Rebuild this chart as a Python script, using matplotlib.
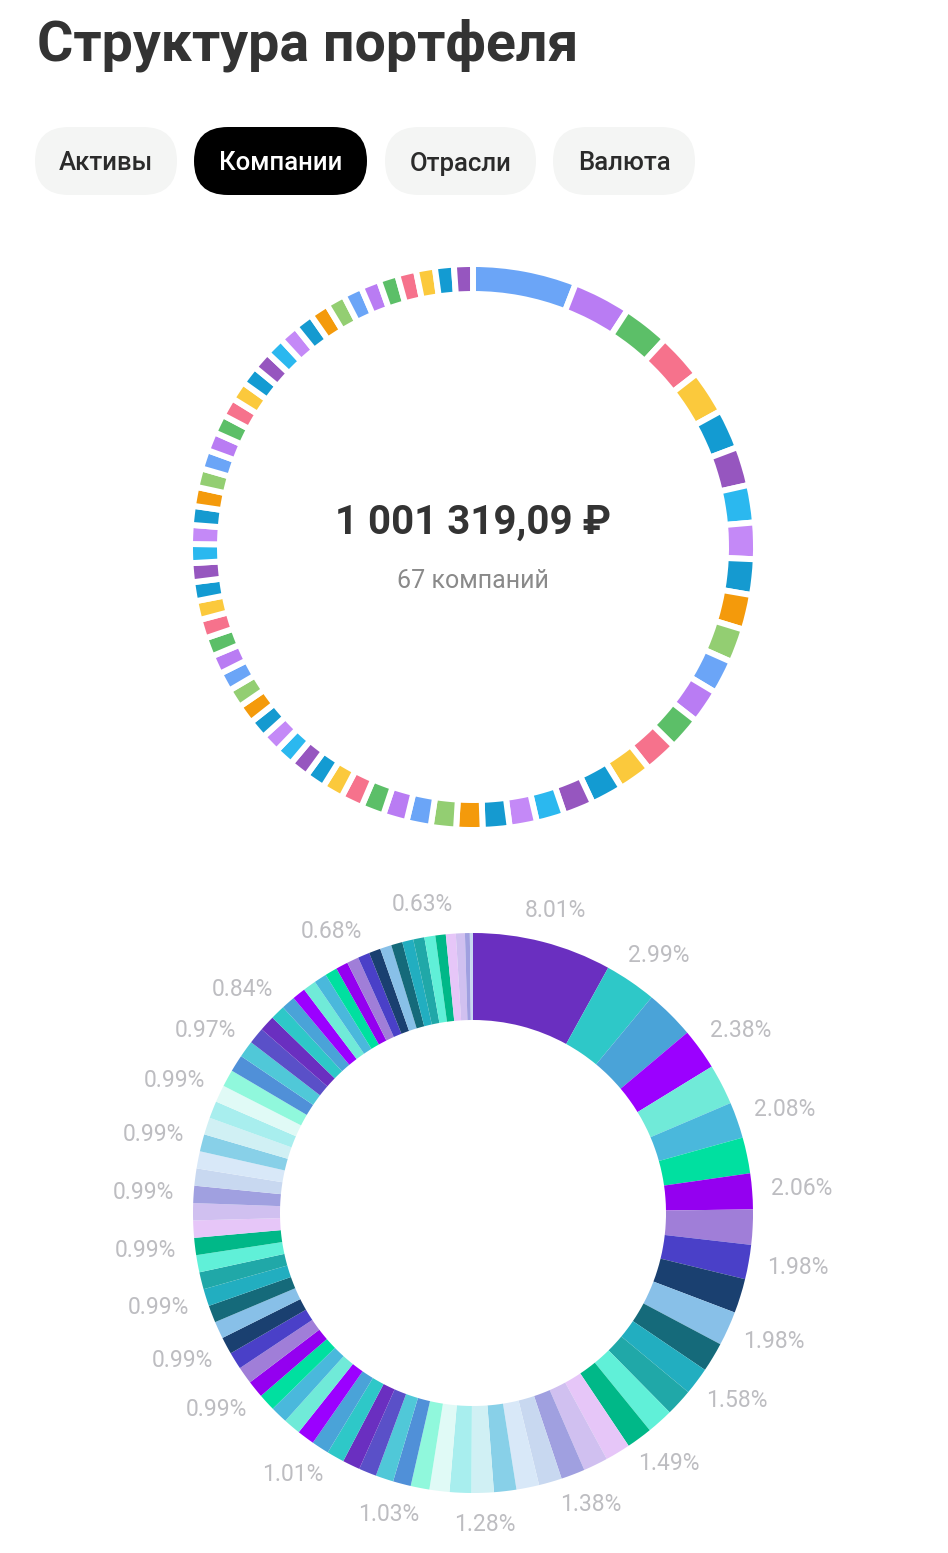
import numpy as np
import matplotlib

matplotlib.use("Agg")
import matplotlib.pyplot as plt
from matplotlib.patches import FancyBboxPatch

plt.rcParams["font.family"] = ["Roboto", "DejaVu Sans"]

W, H = 948, 1553  # output size in px (dpi 100)

TITLE = "Структура портфеля"
TABS = ["Активы", "Компании", "Отрасли", "Валюта"]
ACTIVE_TAB = "Компании"
TOTAL_TEXT = "1 001 319,09 ₽"
COUNT_TEXT = "67 компаний"

# top ring: share of each of the 67 companies (%)
company_share = [
    5.92, 3.28, 2.67, 2.64, 2.50, 2.25, 2.22, 2.14, 2.08, 2.03,
    2.00, 1.94, 1.94, 1.94, 1.89, 1.89, 1.89, 1.83, 1.72, 1.61,
    1.56, 1.53, 1.50, 1.44, 1.39, 1.36, 1.31, 1.25, 1.19, 1.14,
    1.10, 1.08, 1.08, 1.08, 1.08, 1.08, 1.08, 1.08, 1.08, 1.08,
    1.08, 1.08, 1.08, 1.08, 1.08, 1.08, 1.08, 1.08, 1.08, 1.08,
    1.08, 1.08, 1.08, 1.08, 1.08, 1.08, 1.08, 1.08, 1.08, 1.08,
    1.08, 1.08, 1.08, 1.08, 1.08, 1.08, 1.08,
]
company_palette = [
    "#6ba5f7", "#b97cf3", "#5cbf68", "#f6728c", "#fbc93c", "#139bd2",
    "#9656bf", "#2bb8ef", "#c489f7", "#159ad0", "#f49a0b", "#93ce72",
]

# bottom donut: position weights (%), clockwise from 12 o'clock
position_share = [
    8.01, 2.99, 2.85, 2.38, 2.33, 2.08, 2.07, 2.06, 2.02, 1.98,
    1.98, 1.98, 1.70, 1.58, 1.56, 1.52, 1.49, 1.45, 1.42, 1.38,
    1.33, 1.31, 1.29, 1.28, 1.25, 1.15, 1.08, 1.03, 1.03, 1.02,
    1.01, 1.01, 1.01, 1.00, 1.00, 0.99, 0.99, 0.99, 0.99, 0.99,
    0.99, 0.99, 0.99, 0.99, 0.99, 0.99, 0.99, 0.99, 0.99, 0.99,
    0.99, 0.99, 0.99, 0.99, 0.99, 0.99, 0.98, 0.98, 0.97, 0.95,
    0.90, 0.84, 0.80, 0.77, 0.75, 0.73, 0.71, 0.70, 0.68, 0.68,
    0.67, 0.66, 0.65, 0.64, 0.64, 0.63, 0.60, 0.57, 0.52, 0.28,
    0.18,
]
# 1-based positions whose percentage label is shown
labeled_positions = [1, 2, 4, 6, 8, 10, 12, 14, 17, 20, 24, 28, 33,
                     38, 41, 44, 47, 50, 53, 56, 59, 62, 69, 76]
position_palette = [
    "#6a2fc0", "#2ec8c8", "#4aa3d8", "#9b00ff", "#70ead8", "#4ab8dc",
    "#00e0a0", "#9400f0", "#a07ed8", "#4a40c8", "#1a4070", "#88c0e8",
    "#156a7a", "#22aec0", "#20a8a8", "#60f0d8", "#00b888", "#e6c6f8",
    "#d0c0f0", "#a0a0e0", "#c8d8f0", "#d8e8f8", "#88d0e8", "#d0f0f4",
    "#a8eeee", "#e0faf6", "#90f8dc", "#5090d8", "#50c8d8", "#5a50c8",
]


def Y(y_img):
    """image row (top-down) -> data y (bottom-up)"""
    return H - y_img


fig = plt.figure(figsize=(W / 100, H / 100), dpi=100)
ax = fig.add_axes([0, 0, 1, 1])

# --- header -----------------------------------------------------------------
ax.text(37, Y(61), TITLE, fontsize=40, fontweight="bold", color="#333333",
        ha="left", va="baseline")

tab_boxes = [(35, 177), (194, 367), (385, 536), (553, 695)]
tab_top, tab_bot = 127, 195
for name, (x0, x1) in zip(TABS, tab_boxes):
    active = name == ACTIVE_TAB
    h = tab_bot - tab_top
    pill = FancyBboxPatch((x0, Y(tab_bot)), x1 - x0, h,
                          boxstyle=f"round,pad=0,rounding_size={h / 2}",
                          fc="#000000" if active else "#f4f5f4", ec="none")
    ax.add_patch(pill)
    ax.text((x0 + x1) / 2, Y((tab_top + tab_bot) / 2), name, fontsize=18.5,
            fontweight="medium", color="white" if active else "#2b2b2b",
            ha="center", va="center_baseline")

# --- top ring (companies) ---------------------------------------------------
cx1, cy1 = 473, 547
ring_colors = [company_palette[i % len(company_palette)] for i in range(len(company_share))]
ax.pie(company_share, colors=ring_colors, startangle=90, counterclock=False,
       center=(cx1, Y(cy1)), radius=283,
       wedgeprops=dict(width=30, edgecolor="white", linewidth=4.3))

ax.text(cx1, Y(523), TOTAL_TEXT, fontsize=29, fontweight="bold", color="#333333",
        ha="center", va="center")
ax.text(cx1, Y(581), COUNT_TEXT, fontsize=18, color="#8a8a8a",
        ha="center", va="center")

# --- bottom donut (positions) -------------------------------------------------
cx2, cy2 = 473, 1213
donut_colors = [position_palette[i % len(position_palette)] for i in range(len(position_share))]
ax.pie(position_share, colors=donut_colors, startangle=90, counterclock=False,
       center=(cx2, Y(cy2)), radius=280,
       wedgeprops=dict(width=87, edgecolor="none", linewidth=0))

vals = np.array(position_share, dtype=float)
frac = vals / vals.sum()
mid_deg = (np.cumsum(frac) - frac / 2) * 360.0
for pos in labeled_positions:
    th = np.deg2rad(mid_deg[pos - 1])
    lx = cx2 + 330 * np.sin(th)
    ly = cy2 - 312 * np.cos(th)
    ax.text(lx, Y(ly), f"{position_share[pos - 1]:.2f}%", fontsize=16.5,
            fontweight="normal", color="#bdbdc1", ha="center", va="center")

ax.set_xlim(0, W)
ax.set_ylim(0, H)
ax.set_aspect("equal")
ax.axis("off")

fig.savefig("out.png", dpi=100, facecolor="white")
